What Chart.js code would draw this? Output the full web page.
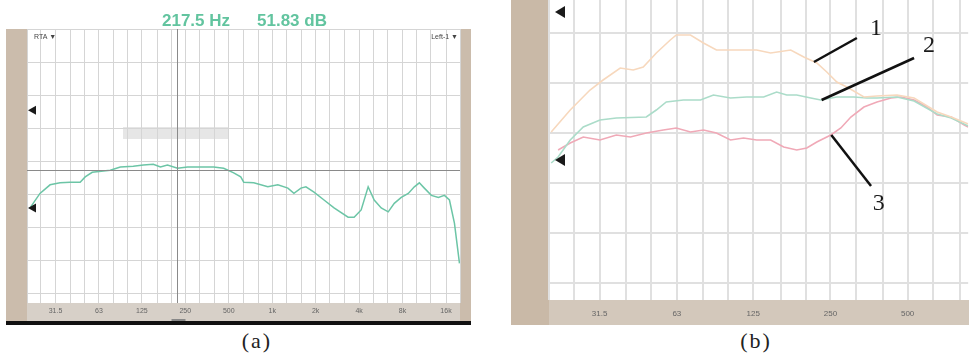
<!DOCTYPE html>
<html>
<head>
<meta charset="utf-8">
<script src="https://cdn.jsdelivr.net/npm/chart.js@4.4.1/dist/chart.umd.min.js"></script>
<style>
  html, body { margin: 0; padding: 0; background: #fff; }
  body { width: 969px; height: 357px; position: relative; overflow: hidden; }
  #rtaA { position: absolute; left: 6px; top: 5px; }
  #rtaB { position: absolute; left: 511px; top: 0; }
  .cap { position: absolute; top: 328px; width: 80px; text-align: center;
         font: 22px "Liberation Serif", "DejaVu Serif", serif; color: #222; letter-spacing: 2px; }
</style>
</head>
<body>
<canvas id="rtaA" width="465" height="320"></canvas>
<canvas id="rtaB" width="458" height="325"></canvas>
<div class="cap" style="left:217px">(a)</div>
<div class="cap" style="left:716px">(b)</div>

<script>
// 1/3 octave grid and octave tick labels
const thirdOct = [20, 25, 31.5, 40, 50, 63, 80, 100, 125, 160, 200, 250, 315, 400, 500, 630, 800,
  1000, 1250, 1600, 2000, 2500, 3150, 4000, 5000, 6300, 8000, 10000, 12500, 16000, 20000];
const octaveHz = [31.5, 63, 125, 250, 500, 1000, 2000, 4000, 8000, 16000];
const octaveLabels = ['31.5', '63', '125', '250', '500', '1k', '2k', '4k', '8k', '16k'];

// (a) full range RTA, cursor readout
const cursorHz = 217.5;
const cursorDb = 51.83;
const gridDbA = [33.2, 38.2, 43.2, 48.2, 53.2, 58.2, 63.2, 68.2, 73.2];
const freqA = [21, 24.6, 28.9, 33.9, 39.8, 46.7, 50.6, 56.6, 75.5, 88.6, 109, 128, 150, 168, 188,
  221, 259, 319, 393, 461, 541, 605, 635, 745, 932, 1094, 1284, 1414, 1581, 1712, 1947, 2285,
  2681, 3356, 3694, 4133, 4621, 5088, 5690, 6365, 7008, 7837, 8766, 9654, 10454, 11320, 12668,
  14172, 15600, 16900, 18300, 19836];
const levelA = [46.1, 48.3, 49.6, 49.9, 50.0, 50.0, 50.8, 51.5, 51.8, 52.3, 52.4, 52.6, 52.7, 52.3,
  52.6, 52.1, 52.3, 52.3, 52.3, 52.1, 51.4, 50.8, 50.0, 49.9, 49.3, 49.6, 49.1, 48.3, 49.1, 49.3,
  48.5, 47.3, 46.1, 44.7, 44.7, 45.8, 49.3, 47.3, 46.1, 45.5, 46.8, 47.7, 48.3, 49.3, 49.9, 49.1,
  48.0, 47.7, 48.0, 47.3, 43.8, 37.7];
const markerDbA = [60.9, 46.1];

// (b) low range, three curves
const gridDbB = [10, 20, 30, 40, 50, 60];
const freqB1 = [20.4, 24.2, 28.9, 32.5, 37.9, 42.6, 46.6, 52.4, 59.4, 62.7, 71.2, 80, 89.9, 107.7,
  128.9, 146.2, 175.1, 196.9, 221.3, 242, 264.8, 289.8, 337.7, 379.8, 454.5, 529.7, 651.7, 739.3, 861.4];
const levelB1 = [40.2, 44.6, 48.6, 50.6, 53.0, 52.6, 53.2, 56.0, 58.6, 59.6, 59.6, 58.0, 56.6, 56.6,
  56.6, 56.0, 56.6, 55.2, 54.0, 52.2, 50.2, 49.2, 47.2, 47.4, 47.6, 47.0, 44.2, 43.2, 41.8];
const freqB2 = [20.4, 21.7, 24.2, 27.2, 31.6, 36.6, 47.9, 52.4, 57.3, 66.8, 77.9, 87.5, 102, 117.8,
  137.3, 154.3, 168.9, 184.8, 209.7, 229.3, 264.8, 308.6, 347, 379.8, 454.5, 529.7, 651.7, 739.3, 861.4];
const levelB2 = [34.0, 35.2, 38.6, 41.2, 42.6, 43.0, 43.2, 44.6, 46.2, 46.6, 46.6, 47.6, 47.0, 47.2,
  47.2, 48.2, 47.6, 47.6, 47.0, 46.6, 47.2, 47.2, 47.0, 47.0, 47.2, 46.4, 43.8, 43.0, 41.4];
const freqB3 = [21.7, 24.2, 27.2, 31.6, 36.6, 41.5, 47.9, 55.8, 62.7, 71.2, 80, 89.9, 102, 114.7,
  128.9, 146.2, 164.4, 184.8, 202.2, 221.3, 250.9, 274.6, 300.4, 337.7, 379.8, 430.8, 471.2, 529.7,
  595.7, 651.7, 739.3, 831.2, 861.4];
const levelB3 = [36.6, 38.0, 39.2, 38.6, 39.6, 39.2, 40.0, 40.6, 41.0, 40.2, 40.6, 40.0, 38.6, 39.0,
  38.6, 38.6, 37.2, 36.6, 37.0, 38.2, 39.6, 41.0, 43.2, 45.2, 46.2, 47.0, 47.2, 46.6, 45.2, 43.6,
  43.2, 41.6, 41.2];
const markerDbB = [64.2, 34.6];
const curveNames = ['1', '2', '3'];

const pts = (f, l) => f.map((v, i) => ({ x: v, y: l[i] }));

function freqAxis(min, max, h, pad, fontSize, gridColor, gridWidth) {
  return {
    type: 'logarithmic', min: min, max: max,
    afterBuildTicks: s => { s.ticks = thirdOct.filter(v => v >= min && v <= max).map(v => ({ value: v })); },
    afterFit: s => { s.height = h; },
    ticks: {
      autoSkip: false, maxRotation: 0, padding: pad, color: '#666',
      font: { family: 'Liberation Sans', size: fontSize },
      callback: v => { const i = octaveHz.indexOf(v); return i < 0 ? '' : octaveLabels[i]; }
    },
    grid: { color: gridColor, lineWidth: gridWidth, drawTicks: false },
    border: { display: false }
  };
}

function dbAxis(min, max, grid, gridColor, gridWidth) {
  return {
    min: min, max: max,
    afterBuildTicks: s => { s.ticks = grid.map(v => ({ value: v })); },
    afterFit: s => { s.width = 0; },
    ticks: { display: false },
    grid: { color: gridColor, lineWidth: gridWidth, drawTicks: false },
    border: { display: false }
  };
}

function leftArrow(ctx, x, y, w, h) {
  ctx.beginPath();
  ctx.moveTo(x, y);
  ctx.lineTo(x + w, y - h);
  ctx.lineTo(x + w, y + h);
  ctx.closePath();
  ctx.fill();
}

// panel (a) frame, cursor and readout
const frameA = {
  id: 'frameA',
  beforeDraw(chart) {
    const { ctx, chartArea: a, width, height } = chart;
    ctx.save();
    ctx.fillStyle = '#fff';
    ctx.fillRect(0, 0, width, height);
    ctx.fillStyle = '#cbbcac';
    ctx.fillRect(0, a.top, a.left, height - 4 - a.top);
    ctx.fillRect(a.right, a.top, width - a.right, height - 4 - a.top);
    ctx.fillStyle = '#d7d0c8';
    ctx.fillRect(a.left, a.bottom, a.right - a.left, height - 4 - a.bottom);
    ctx.fillStyle = '#111';
    ctx.fillRect(0, height - 4, width, 4);
    ctx.fillStyle = '#e6e6e6';
    ctx.fillRect(a.left + 96, a.top + 98, 106, 12);
    ctx.restore();
  },
  afterDatasetsDraw(chart) {
    const { ctx, chartArea: a, scales: { x, y } } = chart;
    const cx = Math.round(x.getPixelForValue(cursorHz)) + 0.5;
    const cy = Math.round(y.getPixelForValue(cursorDb)) + 0.5;
    ctx.save();
    ctx.strokeStyle = '#8a8a8a';
    ctx.lineWidth = 1;
    ctx.beginPath();
    ctx.moveTo(a.left, cy); ctx.lineTo(a.right, cy);
    ctx.moveTo(cx, a.top); ctx.lineTo(cx, a.bottom);
    ctx.stroke();
    ctx.fillStyle = '#888';
    ctx.fillRect(cx - 6, chart.height - 6, 14, 2);
    ctx.fillStyle = '#1a1a1a';
    markerDbA.forEach(v => leftArrow(ctx, a.left + 1, y.getPixelForValue(v), 8, 4.5));
    ctx.fillStyle = '#444';
    ctx.font = '7px "Liberation Sans"';
    ctx.textBaseline = 'middle';
    ctx.textAlign = 'left';
    ctx.fillText('RTA ▼', a.left + 7, a.top + 8);
    ctx.textAlign = 'right';
    ctx.fillText('Left-1 ▼', a.right - 2, a.top + 8);
    ctx.fillStyle = '#62c49f';
    ctx.font = 'bold 17px "Liberation Sans"';
    ctx.textAlign = 'center';
    ctx.textBaseline = 'alphabetic';
    ctx.fillText(cursorHz + ' Hz', 190, 21);
    ctx.fillText(cursorDb + ' dB', 286, 21);
    ctx.restore();
  }
};

// panel (b) frame and numbered callouts
const callouts = [
  { from: [215.6, 54.2], to: [317, 59.0], at: [376, 60.8] },
  { from: [231, 46.6], to: [529.7, 55.0], at: [606, 57.4] },
  { from: [252, 39.6], to: [360, 29.4], at: [386, 25.9] }
];
const frameB = {
  id: 'frameB',
  beforeDraw(chart) {
    const { ctx, chartArea: a, width, height } = chart;
    ctx.save();
    ctx.fillStyle = '#fff';
    ctx.fillRect(0, 0, width, height);
    ctx.fillStyle = '#c9b9a7';
    ctx.fillRect(0, 0, a.left, height);
    ctx.fillStyle = '#d3c8bb';
    ctx.fillRect(a.left, a.bottom, width - a.left, height - a.bottom);
    ctx.restore();
  },
  afterDatasetsDraw(chart) {
    const { ctx, chartArea: a, scales: { x, y } } = chart;
    ctx.save();
    ctx.fillStyle = '#1a1a1a';
    markerDbB.forEach(v => leftArrow(ctx, a.left + 6, y.getPixelForValue(v), 10, 6));
    ctx.strokeStyle = '#111';
    ctx.lineWidth = 2.5;
    ctx.font = '24px "Liberation Serif"';
    ctx.textAlign = 'center';
    ctx.textBaseline = 'middle';
    callouts.forEach((c, i) => {
      ctx.beginPath();
      ctx.moveTo(x.getPixelForValue(c.from[0]), y.getPixelForValue(c.from[1]));
      ctx.lineTo(x.getPixelForValue(c.to[0]), y.getPixelForValue(c.to[1]));
      ctx.stroke();
      ctx.fillText(curveNames[i], x.getPixelForValue(c.at[0]), y.getPixelForValue(c.at[1]));
    });
    ctx.restore();
  }
};

const common = {
  responsive: false,
  animation: false,
  events: [],
  plugins: { legend: { display: false }, tooltip: { enabled: false } },
  elements: { point: { radius: 0 }, line: { tension: 0 } }
};

new Chart(document.getElementById('rtaA'), {
  type: 'line',
  data: {
    datasets: [{ label: 'RTA', data: pts(freqA, levelA), borderColor: '#6cc5a6', borderWidth: 1.5 }]
  },
  options: Object.assign({}, common, {
    layout: { padding: { left: 21, right: 11, top: 24, bottom: 4 } },
    scales: {
      x: freqAxis(20, 20000, 18, 4, 7, '#d5d5d5', 1),
      y: dbAxis(31.7, 73.2, gridDbA, '#d5d5d5', 1)
    }
  }),
  plugins: [frameA]
});

new Chart(document.getElementById('rtaB'), {
  type: 'line',
  data: {
    datasets: [
      { label: '1', data: pts(freqB1, levelB1), borderColor: '#f7d8bd', borderWidth: 1.6 },
      { label: '2', data: pts(freqB2, levelB2), borderColor: '#abdcc9', borderWidth: 1.6 },
      { label: '3', data: pts(freqB3, levelB3), borderColor: '#f0a9b7', borderWidth: 1.6 }
    ]
  },
  options: Object.assign({}, common, {
    layout: { padding: { left: 38, right: 0, top: 0, bottom: 0 } },
    scales: {
      x: freqAxis(20, 861, 25, 9, 8, '#e0e0e0', 2),
      y: dbAxis(6.6, 66.6, gridDbB, '#e0e0e0', 2)
    }
  }),
  plugins: [frameB]
});
</script>
</body>
</html>
